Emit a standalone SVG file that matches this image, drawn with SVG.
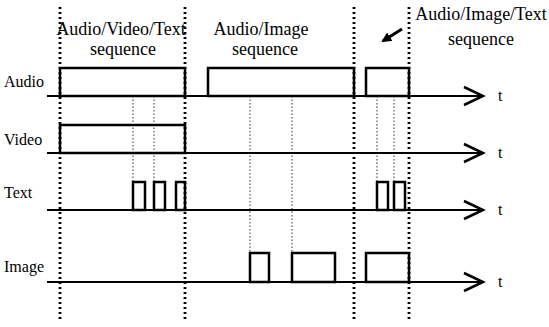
<svg xmlns="http://www.w3.org/2000/svg" width="549" height="327" viewBox="0 0 549 327">
<style>
.lbl{font-family:"Liberation Serif","Times New Roman",serif;font-size:16px;fill:#000}
.hdr{font-family:"Liberation Serif","Times New Roman",serif;font-size:18px;fill:#000}
.box{fill:none;stroke:#000;stroke-width:2.5}
.axis{fill:none;stroke:#000;stroke-width:2.2}
.head{fill:none;stroke:#000;stroke-width:2.5}
.bound{fill:none;stroke:#000;stroke-width:2.8;stroke-dasharray:2 3}
.guide{fill:none;stroke:#333;stroke-width:1;stroke-dasharray:1.5 2}
</style>
<defs>
<marker id="fill-arrow" markerWidth="10" markerHeight="10" refX="8" refY="5" orient="auto" markerUnits="userSpaceOnUse">
<path d="M0,0 L10,5 L0,10 Z" fill="#000"/>
</marker>
</defs>
<rect width="549" height="327" fill="#fff"/>

<g id="boundaries">
<line class="bound" x1="60" y1="7" x2="60" y2="322"/>
<line class="bound" x1="185" y1="7" x2="185" y2="322"/>
<line class="bound" x1="354" y1="7" x2="354" y2="322"/>
<line class="bound" x1="409" y1="7" x2="409" y2="322"/>
</g>

<g id="guides">
<line class="guide" x1="133" y1="96" x2="133" y2="182"/>
<line class="guide" x1="154" y1="96" x2="154" y2="182"/>
<line class="guide" x1="250" y1="96" x2="250" y2="253"/>
<line class="guide" x1="292" y1="96" x2="292" y2="253"/>
<line class="guide" x1="377" y1="96" x2="377" y2="182"/>
<line class="guide" x1="394" y1="96" x2="394" y2="182"/>
</g>

<g id="headers">
<text class="hdr" x="121" y="35" text-anchor="middle">Audio/Video/Text</text>
<text class="hdr" x="123" y="55" text-anchor="middle">sequence</text>
<text class="hdr" x="261" y="35" text-anchor="middle">Audio/Image</text>
<text class="hdr" x="265" y="55" text-anchor="middle">sequence</text>
<text class="hdr" x="481" y="20" text-anchor="middle" font-size="16">Audio/Image/Text</text>
<text class="hdr" x="481" y="45" text-anchor="middle" font-size="16">sequence</text>
</g>

<g id="connectors">
<line x1="402" y1="29" x2="383" y2="41" stroke="#000" stroke-width="3" marker-end="url(#fill-arrow)"/>
</g>

<g id="audio">
<text class="lbl" x="4" y="87">Audio</text>
<line class="axis" x1="47" y1="96" x2="483" y2="96"/>
<polyline class="head" points="464,87 483,96 464,105"/>
<text class="lbl" x="498" y="101">t</text>
<rect class="box" x="60" y="68" width="125" height="28"/>
<rect class="box" x="208" y="68" width="146" height="28"/>
<rect class="box" x="366" y="68" width="43" height="28"/>
</g>

<g id="video">
<text class="lbl" x="4" y="145">Video</text>
<line class="axis" x1="47" y1="153" x2="483" y2="153"/>
<polyline class="head" points="464,144 483,153 464,162"/>
<text class="lbl" x="498" y="158">t</text>
<rect class="box" x="60" y="125" width="125" height="28"/>
</g>

<g id="text-track">
<text class="lbl" x="4" y="198">Text</text>
<line class="axis" x1="47" y1="210" x2="483" y2="210"/>
<polyline class="head" points="464,201 483,210 464,219"/>
<text class="lbl" x="498" y="215">t</text>
<rect class="box" x="133" y="182" width="12" height="28"/>
<rect class="box" x="154" y="182" width="11" height="28"/>
<rect class="box" x="176" y="182" width="9" height="28"/>
<rect class="box" x="377" y="182" width="11" height="28"/>
<rect class="box" x="394" y="182" width="11" height="28"/>
</g>

<g id="image">
<text class="lbl" x="4" y="272">Image</text>
<line class="axis" x1="47" y1="282" x2="483" y2="282"/>
<polyline class="head" points="464,273 483,282 464,291"/>
<text class="lbl" x="498" y="287">t</text>
<rect class="box" x="250" y="253" width="19" height="29"/>
<rect class="box" x="292" y="253" width="43" height="29"/>
<rect class="box" x="366" y="253" width="43" height="29"/>
</g>
</svg>
